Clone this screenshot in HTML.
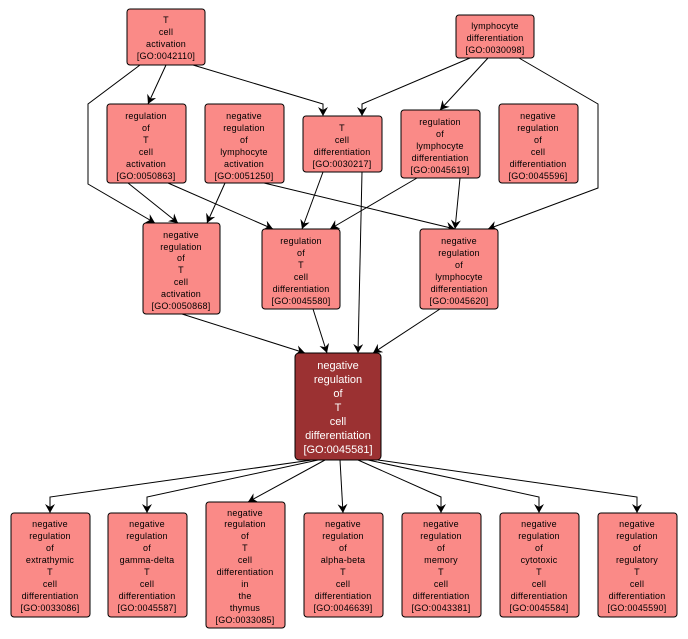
<!DOCTYPE html>
<html><head><meta charset="utf-8"><style>
html,body{margin:0;padding:0;background:#fff;}
svg{display:block;}
text{font-family:"Liberation Sans",sans-serif;font-size:9px;fill:#000;text-anchor:middle;letter-spacing:0.2px;}
.c text{fill:#fff;font-size:11px;letter-spacing:0;}
rect{fill:#fa8a87;stroke:#000;stroke-width:1;}
.line{fill:none;stroke:#000;stroke-width:1;}
</style></head><body>
<svg width="688" height="639" viewBox="0 0 688 639" xmlns="http://www.w3.org/2000/svg">
<defs><marker id="a" markerWidth="10" markerHeight="10" refX="9" refY="5" orient="auto" markerUnits="userSpaceOnUse"><path d="M0,0 L9,5 L0,10 L3,5 z" fill="#000"/></marker></defs>
<g class="line" marker-end="url(#a)">
<polyline points="166,65 148,104"/>
<polyline points="140,65 88,104 88,184 155,223"/>
<polyline points="193,65 323,104 323,116"/>
<polyline points="470,58 362,104 362,116"/>
<polyline points="488,58 440,110"/>
<polyline points="519,58 598,104 598,188 488,229"/>
<polyline points="128,183 178,223"/>
<polyline points="168,183 273,229"/>
<polyline points="225,183 207,223"/>
<polyline points="264,183 455,229"/>
<polyline points="323,172 302,229"/>
<polyline points="362,172 358,353"/>
<polyline points="417,178 330,229"/>
<polyline points="460,178 455,229"/>
<polyline points="182,314 305,353"/>
<polyline points="313,309 327,353"/>
<polyline points="440,309 373,353"/>
<polyline points="312,460 50,497 50,513"/>
<polyline points="318,460 147,497 147,513"/>
<polyline points="325,460 248,502"/>
<polyline points="340,460 343,513"/>
<polyline points="358,460 441,497 441,513"/>
<polyline points="368,460 539,497 539,513"/>
<polyline points="378,460 637,497 637,513"/>
</g>
<g>
<rect x="127" y="9" width="78" height="56" rx="3"/>
<text x="166" y="23">T</text><text x="166" y="35">cell</text><text x="166" y="47">activation</text><text x="166" y="59">[GO:0042110]</text>
<rect x="456" y="15" width="78" height="43" rx="3"/>
<text x="495" y="29">lymphocyte</text><text x="495" y="41">differentiation</text><text x="495" y="53">[GO:0030098]</text>
<rect x="107" y="104" width="79" height="79" rx="3"/>
<text x="146" y="119">regulation</text><text x="146" y="131">of</text><text x="146" y="143">T</text><text x="146" y="155">cell</text><text x="146" y="167">activation</text><text x="146" y="179">[GO:0050863]</text>
<rect x="205" y="104" width="79" height="79" rx="3"/>
<text x="244" y="119">negative</text><text x="244" y="131">regulation</text><text x="244" y="143">of</text><text x="244" y="155">lymphocyte</text><text x="244" y="167">activation</text><text x="244" y="179">[GO:0051250]</text>
<rect x="303" y="116" width="79" height="56" rx="3"/>
<text x="342" y="131">T</text><text x="342" y="143">cell</text><text x="342" y="155">differentiation</text><text x="342" y="167">[GO:0030217]</text>
<rect x="401" y="110" width="79" height="68" rx="3"/>
<text x="440" y="125">regulation</text><text x="440" y="137">of</text><text x="440" y="149">lymphocyte</text><text x="440" y="161">differentiation</text><text x="440" y="173">[GO:0045619]</text>
<rect x="499" y="104" width="79" height="79" rx="3"/>
<text x="538" y="119">negative</text><text x="538" y="131">regulation</text><text x="538" y="143">of</text><text x="538" y="155">cell</text><text x="538" y="167">differentiation</text><text x="538" y="179">[GO:0045596]</text>
<rect x="143" y="223" width="77" height="91" rx="3"/>
<text x="181" y="238">negative</text><text x="181" y="250">regulation</text><text x="181" y="261">of</text><text x="181" y="273">T</text><text x="181" y="285">cell</text><text x="181" y="297">activation</text><text x="181" y="309">[GO:0050868]</text>
<rect x="262" y="229" width="78" height="80" rx="3"/>
<text x="301" y="244">regulation</text><text x="301" y="256">of</text><text x="301" y="268">T</text><text x="301" y="280">cell</text><text x="301" y="292">differentiation</text><text x="301" y="304">[GO:0045580]</text>
<rect x="420" y="229" width="78" height="80" rx="3"/>
<text x="459" y="244">negative</text><text x="459" y="256">regulation</text><text x="459" y="268">of</text><text x="459" y="280">lymphocyte</text><text x="459" y="292">differentiation</text><text x="459" y="304">[GO:0045620]</text>
</g>
<g class="c">
<rect x="295" y="353" width="86" height="107" rx="4" style="fill:#9b3132"/>
<text x="338" y="369">negative</text><text x="338" y="383">regulation</text><text x="338" y="397">of</text><text x="338" y="411">T</text><text x="338" y="425">cell</text><text x="338" y="439">differentiation</text><text x="338" y="453">[GO:0045581]</text>
</g>
<g>
<rect x="11" y="513" width="79" height="104" rx="3"/>
<text x="50" y="527">negative</text><text x="50" y="539">regulation</text><text x="50" y="551">of</text><text x="50" y="563">extrathymic</text><text x="50" y="575">T</text><text x="50" y="587">cell</text><text x="50" y="599">differentiation</text><text x="50" y="611">[GO:0033086]</text>
<rect x="108" y="513" width="79" height="104" rx="3"/>
<text x="147" y="527">negative</text><text x="147" y="539">regulation</text><text x="147" y="551">of</text><text x="147" y="563">gamma-delta</text><text x="147" y="575">T</text><text x="147" y="587">cell</text><text x="147" y="599">differentiation</text><text x="147" y="611">[GO:0045587]</text>
<rect x="206" y="502" width="79" height="126" rx="3"/>
<text x="245" y="516">negative</text><text x="245" y="527">regulation</text><text x="245" y="539">of</text><text x="245" y="551">T</text><text x="245" y="563">cell</text><text x="245" y="575">differentiation</text><text x="245" y="587">in</text><text x="245" y="599">the</text><text x="245" y="611">thymus</text><text x="245" y="623">[GO:0033085]</text>
<rect x="304" y="513" width="79" height="104" rx="3"/>
<text x="343" y="527">negative</text><text x="343" y="539">regulation</text><text x="343" y="551">of</text><text x="343" y="563">alpha-beta</text><text x="343" y="575">T</text><text x="343" y="587">cell</text><text x="343" y="599">differentiation</text><text x="343" y="611">[GO:0046639]</text>
<rect x="402" y="513" width="79" height="104" rx="3"/>
<text x="441" y="527">negative</text><text x="441" y="539">regulation</text><text x="441" y="551">of</text><text x="441" y="563">memory</text><text x="441" y="575">T</text><text x="441" y="587">cell</text><text x="441" y="599">differentiation</text><text x="441" y="611">[GO:0043381]</text>
<rect x="500" y="513" width="79" height="104" rx="3"/>
<text x="539" y="527">negative</text><text x="539" y="539">regulation</text><text x="539" y="551">of</text><text x="539" y="563">cytotoxic</text><text x="539" y="575">T</text><text x="539" y="587">cell</text><text x="539" y="599">differentiation</text><text x="539" y="611">[GO:0045584]</text>
<rect x="598" y="513" width="79" height="104" rx="3"/>
<text x="637" y="527">negative</text><text x="637" y="539">regulation</text><text x="637" y="551">of</text><text x="637" y="563">regulatory</text><text x="637" y="575">T</text><text x="637" y="587">cell</text><text x="637" y="599">differentiation</text><text x="637" y="611">[GO:0045590]</text>
</g>
</svg>
</body></html>
